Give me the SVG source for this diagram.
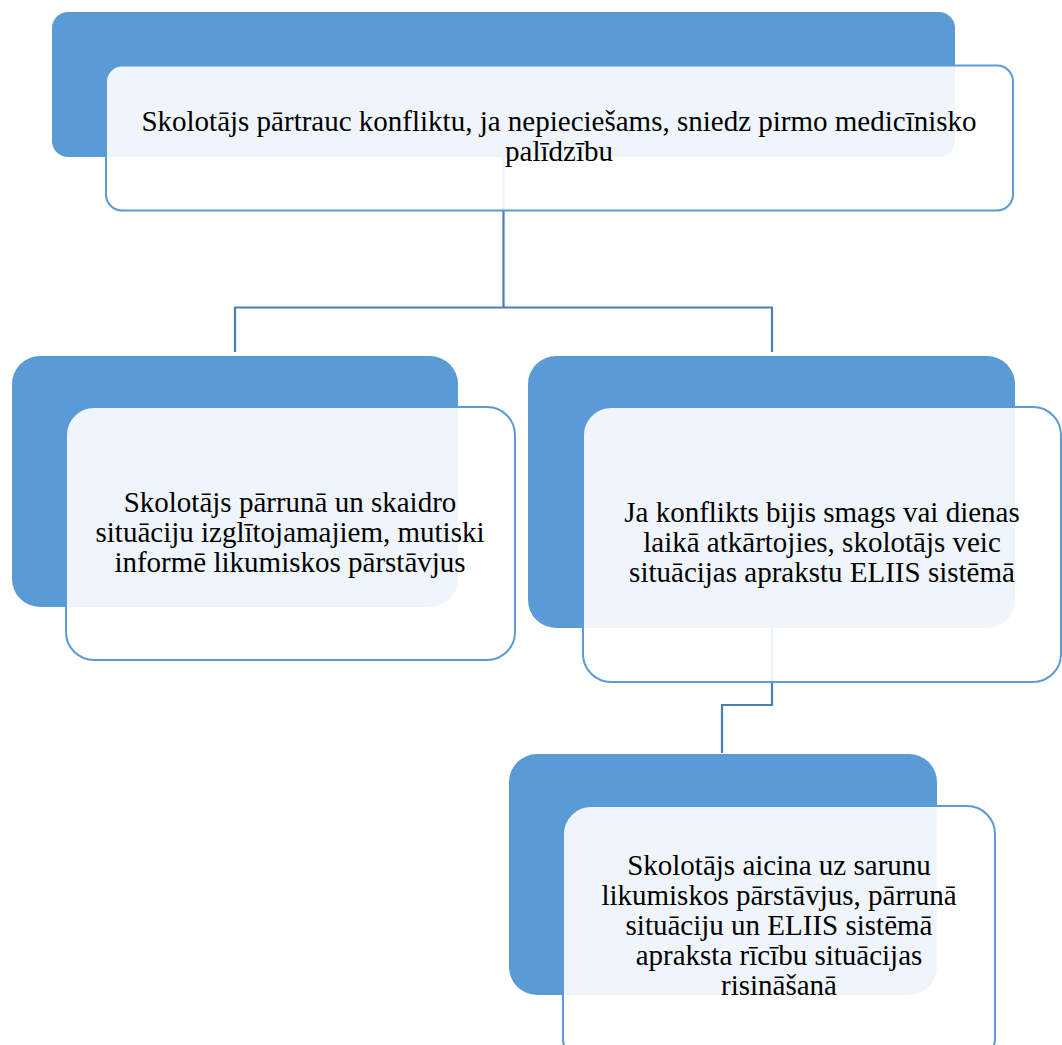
<svg xmlns="http://www.w3.org/2000/svg" width="1062" height="1045" viewBox="0 0 1062 1045">
<style>
.back{fill:#5B9BD5;}
.front{fill:#FFFFFF;fill-opacity:0.9;stroke:#5B9BD5;stroke-width:2;}
.conn{fill:none;stroke:#4A7EBB;stroke-width:2.2;}
</style>
<rect width="1062" height="1045" fill="#FFFFFF"/>
<g id="connectors">
<path class="conn" d="M503.5,157 V307.5 M235,352 V307.5 H772 V352"/>
<path class="conn" d="M772,628 V705 H722 V753"/>
</g>
<g id="node1">
<rect class="back" x="52" y="12" width="903" height="145" rx="16"/>
<rect class="front" x="106" y="65.5" width="907" height="145" rx="16"/>
<text x="559" y="131" font-family="Liberation Serif" font-size="29" text-anchor="middle" fill="#000">Skolotājs pārtrauc konfliktu, ja nepieciešams, sniedz pirmo medicīnisko</text>
<text x="559" y="161" font-family="Liberation Serif" font-size="29" text-anchor="middle" fill="#000">palīdzību</text>
</g>
<g id="node2">
<rect class="back" x="12" y="356" width="446" height="251" rx="28"/>
<rect class="front" x="66" y="407" width="449" height="253" rx="28"/>
<text x="290" y="512" font-family="Liberation Serif" font-size="29" text-anchor="middle" fill="#000">Skolotājs pārrunā un skaidro</text>
<text x="290" y="542" font-family="Liberation Serif" font-size="29" text-anchor="middle" fill="#000">situāciju izglītojamajiem, mutiski</text>
<text x="290" y="572" font-family="Liberation Serif" font-size="29" text-anchor="middle" fill="#000">informē likumiskos pārstāvjus</text>
</g>
<g id="node3">
<rect class="back" x="528" y="356" width="487" height="272" rx="28"/>
<rect class="front" x="583" y="407" width="478" height="275" rx="28"/>
<text x="822" y="522" font-family="Liberation Serif" font-size="29" text-anchor="middle" fill="#000">Ja konflikts bijis smags vai dienas</text>
<text x="822" y="552" font-family="Liberation Serif" font-size="29" text-anchor="middle" fill="#000">laikā atkārtojies, skolotājs veic</text>
<text x="822" y="582" font-family="Liberation Serif" font-size="29" text-anchor="middle" fill="#000">situācijas aprakstu ELIIS sistēmā</text>
</g>
<g id="node4">
<rect class="back" x="509" y="754" width="428" height="241" rx="28"/>
<rect class="front" x="563" y="806" width="432" height="260" rx="28"/>
<text x="779" y="875" font-family="Liberation Serif" font-size="29" text-anchor="middle" fill="#000">Skolotājs aicina uz sarunu</text>
<text x="779" y="905" font-family="Liberation Serif" font-size="29" text-anchor="middle" fill="#000">likumiskos pārstāvjus, pārrunā</text>
<text x="779" y="935" font-family="Liberation Serif" font-size="29" text-anchor="middle" fill="#000">situāciju un ELIIS sistēmā</text>
<text x="779" y="965" font-family="Liberation Serif" font-size="29" text-anchor="middle" fill="#000">apraksta rīcību situācijas</text>
<text x="779" y="995" font-family="Liberation Serif" font-size="29" text-anchor="middle" fill="#000">risināšanā</text>
</g>
</svg>
